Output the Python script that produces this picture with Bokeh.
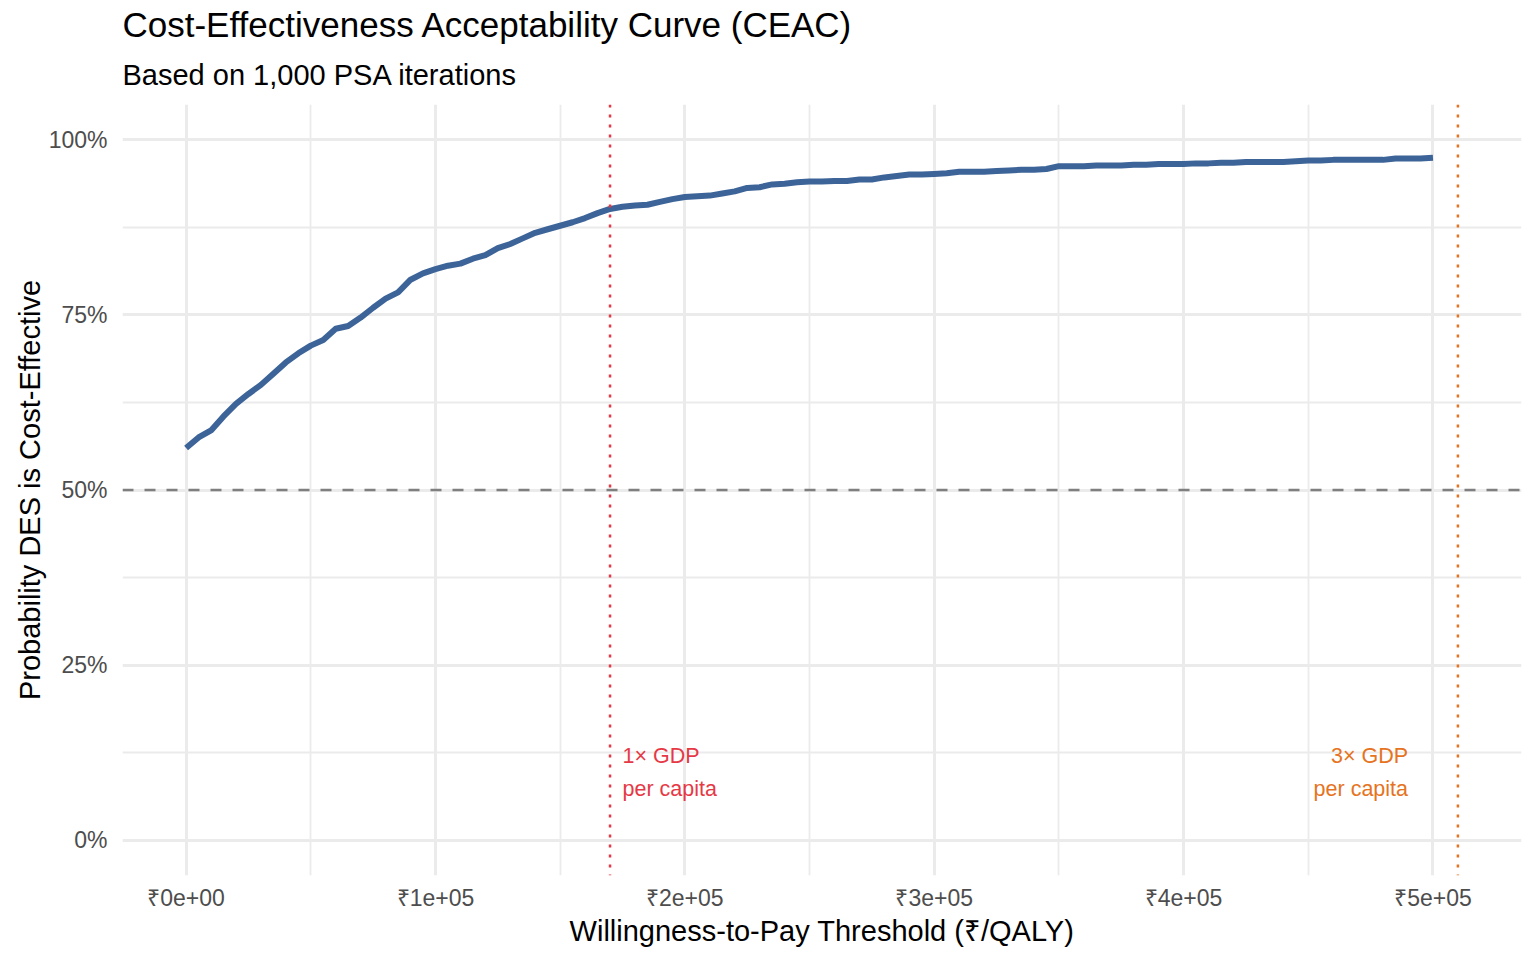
from bokeh.plotting import figure
from bokeh.models import Range1d, FixedTicker, Title, Span
from bokeh.embed import file_html
from bokeh.resources import INLINE
from bokeh.core.properties import value

# ---------------- data ----------------
wtp = list(range(0, 500001, 5000))  # willingness-to-pay thresholds (₹/QALY)
prob_pct = [
    56.0, 57.5, 58.5, 60.5, 62.3, 63.7, 65.0, 66.6, 68.2, 69.5,
    70.6, 71.4, 73.0, 73.4, 74.6, 76.0, 77.3, 78.2, 80.0, 80.9,
    81.5, 82.0, 82.3, 83.0, 83.5, 84.5, 85.1, 85.9, 86.7, 87.2,
    87.7, 88.2, 88.8, 89.5, 90.1, 90.4, 90.6, 90.7, 91.1, 91.5,
    91.8, 91.9, 92.0, 92.3, 92.6, 93.1, 93.2, 93.6, 93.7, 93.9,
    94.0, 94.0, 94.1, 94.1, 94.3, 94.3, 94.6, 94.8, 95.0, 95.0,
    95.1, 95.2, 95.4, 95.4, 95.4, 95.5, 95.6, 95.7, 95.7, 95.8,
    96.2, 96.2, 96.2, 96.3, 96.3, 96.3, 96.4, 96.4, 96.5, 96.5,
    96.5, 96.6, 96.6, 96.7, 96.7, 96.8, 96.8, 96.8, 96.8, 96.9,
    97.0, 97.0, 97.1, 97.1, 97.1, 97.1, 97.1, 97.3, 97.3, 97.3,
    97.4,
]
prob = [v / 100.0 for v in prob_pct]

x_ticks = [0, 100000, 200000, 300000, 400000, 500000]
x_tick_labels = ["₹0e+00", "₹1e+05", "₹2e+05", "₹3e+05", "₹4e+05", "₹5e+05"]
x_minor = [50000, 150000, 250000, 350000, 450000]
y_ticks = [0.0, 0.25, 0.5, 0.75, 1.0]
y_tick_labels = ["0%", "25%", "50%", "75%", "100%"]
y_minor = [0.125, 0.375, 0.625, 0.875]

ref_prob = 0.5
gdp_1x = 170000
gdp_3x = 510000
gdp_labels_1x = ["1× GDP", "per capita"]
gdp_labels_3x = ["3× GDP", "per capita"]
label_x_1x = 175000
label_x_3x = 490000
label_y = [0.121, 0.073]

# ---------------- styles ----------------
FONT = "Liberation Sans"
BLUE = "#3D6498"
RED = "#E63946"
ORANGE = "#E67322"
GRID = "#EBEBEB"

p = figure(
    width=1536, height=960, title=None,
    x_range=Range1d(-25500, 535500), y_range=Range1d(-0.05, 1.05),
    output_backend="svg", toolbar_location=None,
    min_border_left=122, min_border_right=15, min_border_top=104, min_border_bottom=85,
)
p.background_fill_color = "white"
p.border_fill_color = "white"
p.outline_line_color = None

sub = Title(text="Based on 1,000 PSA iterations", align="left",
            text_font=FONT, text_font_size="29px", text_font_style="normal",
            text_color="black", standoff=27)
p.add_layout(sub, "above")
main = Title(text="Cost-Effectiveness Acceptability Curve (CEAC)", align="left",
             text_font=FONT, text_font_size="35px", text_font_style="normal",
             text_color="black", standoff=0)
p.add_layout(main, "above")

# grids
p.xgrid.ticker = FixedTicker(ticks=x_ticks, minor_ticks=x_minor)
p.ygrid.ticker = FixedTicker(ticks=y_ticks, minor_ticks=y_minor)
for g in (p.xgrid, p.ygrid):
    g.grid_line_color = GRID
    g.grid_line_width = 3
    g.minor_grid_line_color = GRID
    g.minor_grid_line_width = 1.8

# axes
p.xaxis.ticker = FixedTicker(ticks=x_ticks)
p.xaxis.major_label_overrides = {t: l for t, l in zip(x_ticks, x_tick_labels)}
p.yaxis.ticker = FixedTicker(ticks=y_ticks)
p.yaxis.major_label_overrides = {t: l for t, l in zip(y_ticks, y_tick_labels)}
p.xaxis.axis_label = "Willingness-to-Pay Threshold (₹/QALY)"
p.yaxis.axis_label = "Probability DES is Cost-Effective"
for ax in (p.xaxis, p.yaxis):
    ax.axis_line_color = None
    ax.major_tick_line_color = None
    ax.minor_tick_line_color = None
    ax.major_label_text_font = FONT
    ax.major_label_text_font_size = "23px"
    ax.major_label_text_color = "#4D4D4D"
    ax.axis_label_text_font = FONT
    ax.axis_label_text_font_size = "29px"
    ax.axis_label_text_font_style = "normal"
    ax.axis_label_text_color = "black"
p.xaxis.major_label_standoff = 3
p.xaxis.axis_label_standoff = 1
p.yaxis.major_label_standoff = 9
p.yaxis.axis_label_standoff = 0

# curve
p.line(wtp, prob, line_width=6, line_color=BLUE, line_join="round")

# reference lines
p.add_layout(Span(location=ref_prob, dimension="width", line_color="#7F7F7F",
                  line_dash="11 11", line_width=2.7))
p.add_layout(Span(location=gdp_1x, dimension="height", line_color=RED,
                  line_dash="3 7", line_width=2.5))
p.add_layout(Span(location=gdp_3x, dimension="height", line_color=ORANGE,
                  line_dash="3 7", line_width=2.5))

# annotations
p.text(x=[label_x_1x] * 2, y=label_y, text=gdp_labels_1x,
       text_font=value(FONT), text_font_size="21.5px", text_color=RED,
       text_align="left", text_baseline="alphabetic")
p.text(x=[label_x_3x] * 2, y=label_y, text=gdp_labels_3x,
       text_font=value(FONT), text_font_size="21.5px", text_color=ORANGE,
       text_align="right", text_baseline="alphabetic")

open("out.html", "w").write(file_html(p, INLINE))
